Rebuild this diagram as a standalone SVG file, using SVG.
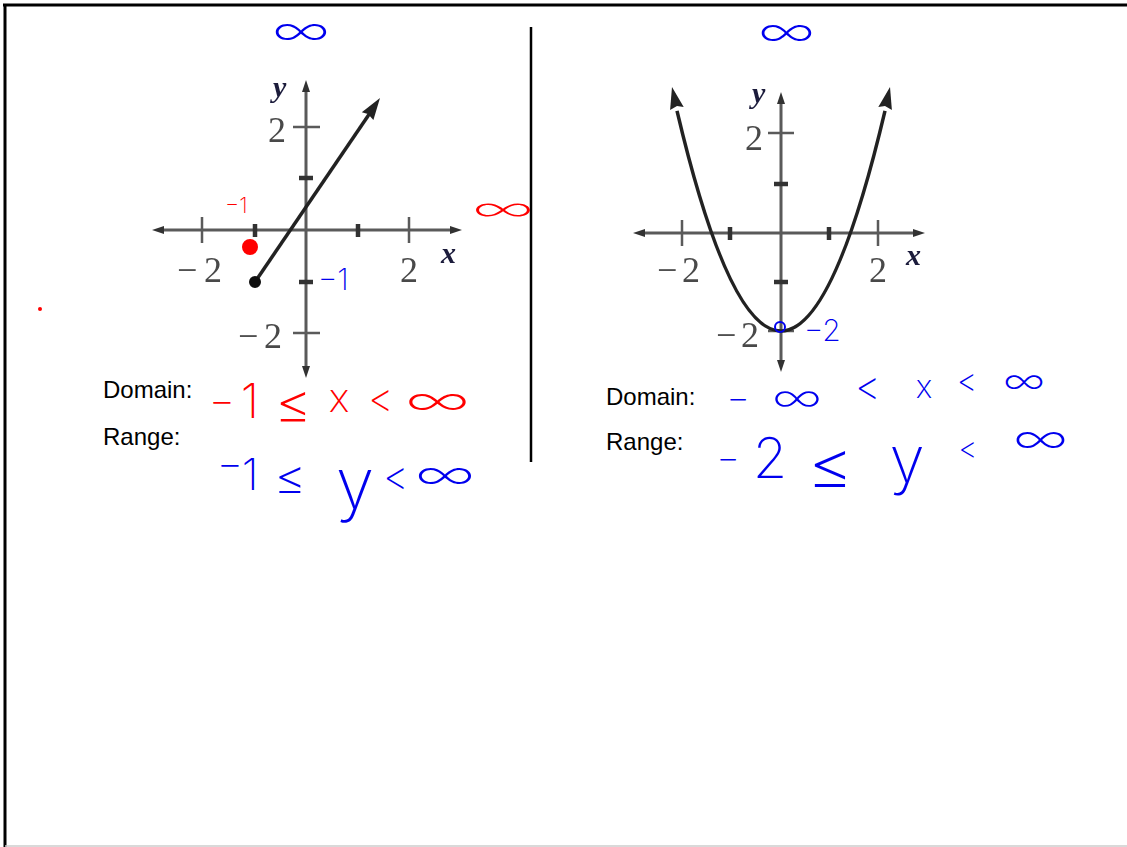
<svg xmlns="http://www.w3.org/2000/svg" width="1127" height="847" viewBox="0 0 1127 847">
<defs>
<filter id="soft" x="-5%" y="-5%" width="110%" height="110%"><feGaussianBlur stdDeviation="0.7"/></filter>
</defs>
<style>
.ax{stroke:#5a5a5a;stroke-width:3;fill:none}
.t2{stroke:#5a5a5a;stroke-width:2.5}
.t1{stroke:#333;stroke-width:4.5}
.ah{fill:#333}
.num{font-family:"Liberation Serif",serif;font-size:36px;fill:#4a4a4a}
.var{font-family:"Liberation Serif",serif;font-size:30px;font-style:italic;font-weight:bold;fill:#1a1a3a}
.lbl{font-family:"Liberation Sans",Arial,sans-serif;font-size:24px;fill:#000}
.red{font-family:Inter,"DejaVu Sans",sans-serif;font-weight:200;fill:#ff0000}
.blue{font-family:Inter,"DejaVu Sans",sans-serif;font-weight:200;fill:#0000ee}
</style>
<rect width="1127" height="847" fill="#fff"/>
<g id="frame">
<line x1="3" y1="5" x2="1127" y2="5" stroke="#000" stroke-width="3"/>
<line x1="5" y1="4" x2="5" y2="847" stroke="#000" stroke-width="3"/>
<line x1="5" y1="846" x2="1127" y2="846" stroke="#ccc" stroke-width="1.5"/>
<line x1="531" y1="27" x2="531" y2="462" stroke="#000" stroke-width="2.5"/>
</g>
<g id="graph-left" filter="url(#soft)">
<line class="ax" x1="158" y1="230" x2="456" y2="230"/>
<line class="ax" x1="306" y1="86" x2="306" y2="372"/>
<polygon class="ah" points="152,230 164,226 164,234"/>
<polygon class="ah" points="462,230 450,226 450,234"/>
<polygon class="ah" points="306,80 302,92 310,92"/>
<polygon class="ah" points="306,378 302,366 310,366"/>
<line class="t2" x1="202" y1="217" x2="202" y2="243"/>
<line class="t2" x1="409" y1="217" x2="409" y2="243"/>
<line class="t1" x1="255" y1="224" x2="255" y2="237"/>
<line class="t1" x1="358" y1="224" x2="358" y2="237"/>
<line class="t2" x1="293" y1="127" x2="320" y2="127"/>
<line class="t2" x1="293" y1="333" x2="320" y2="333"/>
<line class="t1" x1="299" y1="178" x2="313" y2="178"/>
<line class="t1" x1="299" y1="282" x2="313" y2="282"/>
<line x1="255" y1="282" x2="370" y2="113" stroke="#222" stroke-width="3.5"/>
<polygon points="380,98 373.4,120.1 368,114 361.8,112.3" fill="#222"/>
<circle cx="255" cy="282" r="6" fill="#111"/>
<text class="num" x="268" y="142">2</text>
<text class="num" x="177" y="282">−</text>
<text class="num" x="204" y="282">2</text>
<text class="num" x="400" y="282">2</text>
<text class="num" x="238" y="348">−</text>
<text class="num" x="264" y="348">2</text>
<text class="var" x="273" y="97">y</text>
<text class="var" x="441" y="263">x</text>
</g>
<g id="graph-right" filter="url(#soft)">
<line class="ax" x1="639" y1="233" x2="919" y2="233"/>
<line class="ax" x1="781" y1="98" x2="781" y2="366"/>
<polygon class="ah" points="633,233 645,229 645,237"/>
<polygon class="ah" points="925,233 913,229 913,237"/>
<polygon class="ah" points="781,92 777,104 785,104"/>
<polygon class="ah" points="781,372 777,360 785,360"/>
<line class="t2" x1="682" y1="220" x2="682" y2="246"/>
<line class="t2" x1="878" y1="220" x2="878" y2="246"/>
<line class="t1" x1="730" y1="227" x2="730" y2="240"/>
<line class="t1" x1="829" y1="227" x2="829" y2="240"/>
<line class="t2" x1="768" y1="133" x2="794" y2="133"/>
<line class="t2" x1="768" y1="331" x2="794" y2="331"/>
<line class="t1" x1="774" y1="184" x2="788" y2="184"/>
<line class="t1" x1="774" y1="282" x2="788" y2="282"/>
<path d="M677,110.8 Q781,551.2 885,110.8" fill="none" stroke="#222" stroke-width="3.5"/>
<polygon points="890,87 891.9,110.1 885,106 878.3,106.9" fill="#222"/>
<polygon points="672,87 683.7,106.9 677,106 670.1,110.1" fill="#222"/>
<text class="num" x="745" y="150">2</text>
<text class="num" x="657" y="282">−</text>
<text class="num" x="682" y="282">2</text>
<text class="num" x="869" y="282">2</text>
<text class="num" x="716" y="347">−</text>
<text class="num" x="741" y="347">2</text>
<text class="var" x="752" y="103">y</text>
<text class="var" x="906" y="265">x</text>
</g>
<g id="labels">
<text class="lbl" x="103" y="398">Domain:</text>
<text class="lbl" x="103" y="445">Range:</text>
<text class="lbl" x="606" y="405">Domain:</text>
<text class="lbl" x="606" y="450">Range:</text>
</g>
<g id="ink-left">
<circle cx="250" cy="247" r="8" fill="#ff0000"/>
<circle cx="40" cy="309" r="2" fill="#ff0000"/>
<text class="red" x="225" y="213" font-size="22">−1</text>
<text class="red" x="472" y="221" font-size="36" textLength="62" lengthAdjust="spacingAndGlyphs">∞</text>
<text class="blue" x="318" y="290" font-size="30">−1</text>
<text class="red" font-size="40" text-anchor="middle"><tspan x="222" y="414">−</tspan><tspan x="250" y="418" font-size="48">1</tspan><tspan x="293" y="424" font-size="58">≤</tspan><tspan x="339" y="412">x</tspan><tspan x="381" y="412">&lt;</tspan></text>
<text class="red" x="405" y="416" font-size="44" textLength="65" lengthAdjust="spacingAndGlyphs">∞</text>
<text class="blue" font-size="40" text-anchor="middle"><tspan x="230" y="477">−</tspan><tspan x="250" y="490" font-size="44">1</tspan><tspan x="290" y="495" font-size="50">≤</tspan><tspan x="355" y="508" font-size="70">y</tspan><tspan x="396" y="490">&lt;</tspan></text>
<text class="blue" x="415" y="490" font-size="46" textLength="60" lengthAdjust="spacingAndGlyphs">∞</text>
<text class="blue" x="272" y="46" font-size="46" textLength="58" lengthAdjust="spacingAndGlyphs">∞</text>
</g>
<g id="ink-right">
<circle cx="780" cy="327" r="5" fill="none" stroke="#0000ee" stroke-width="2"/>
<text class="blue" x="804" y="341" font-size="30">−2</text>
<text class="blue" x="758" y="47" font-size="46" textLength="57" lengthAdjust="spacingAndGlyphs">∞</text>
<text class="blue" font-size="36" text-anchor="middle"><tspan x="738" y="410">−</tspan><tspan x="868" y="400" font-size="40">&lt;</tspan><tspan x="924" y="398" font-size="32">x</tspan><tspan x="967" y="392" font-size="32">&lt;</tspan></text>
<text class="blue" x="772" y="412" font-size="42" textLength="50" lengthAdjust="spacingAndGlyphs">∞</text>
<text class="blue" x="1003" y="394" font-size="38" textLength="42" lengthAdjust="spacingAndGlyphs">∞</text>
<text class="blue" font-size="36" text-anchor="middle"><tspan x="728" y="470">−</tspan><tspan x="770" y="478" font-size="56">2</tspan><tspan x="830" y="490" font-size="72">≤</tspan><tspan x="907" y="482" font-size="64">y</tspan><tspan x="968" y="459" font-size="30">&lt;</tspan></text>
<text class="blue" x="1013" y="454" font-size="46" textLength="55" lengthAdjust="spacingAndGlyphs">∞</text>
</g>
</svg>
